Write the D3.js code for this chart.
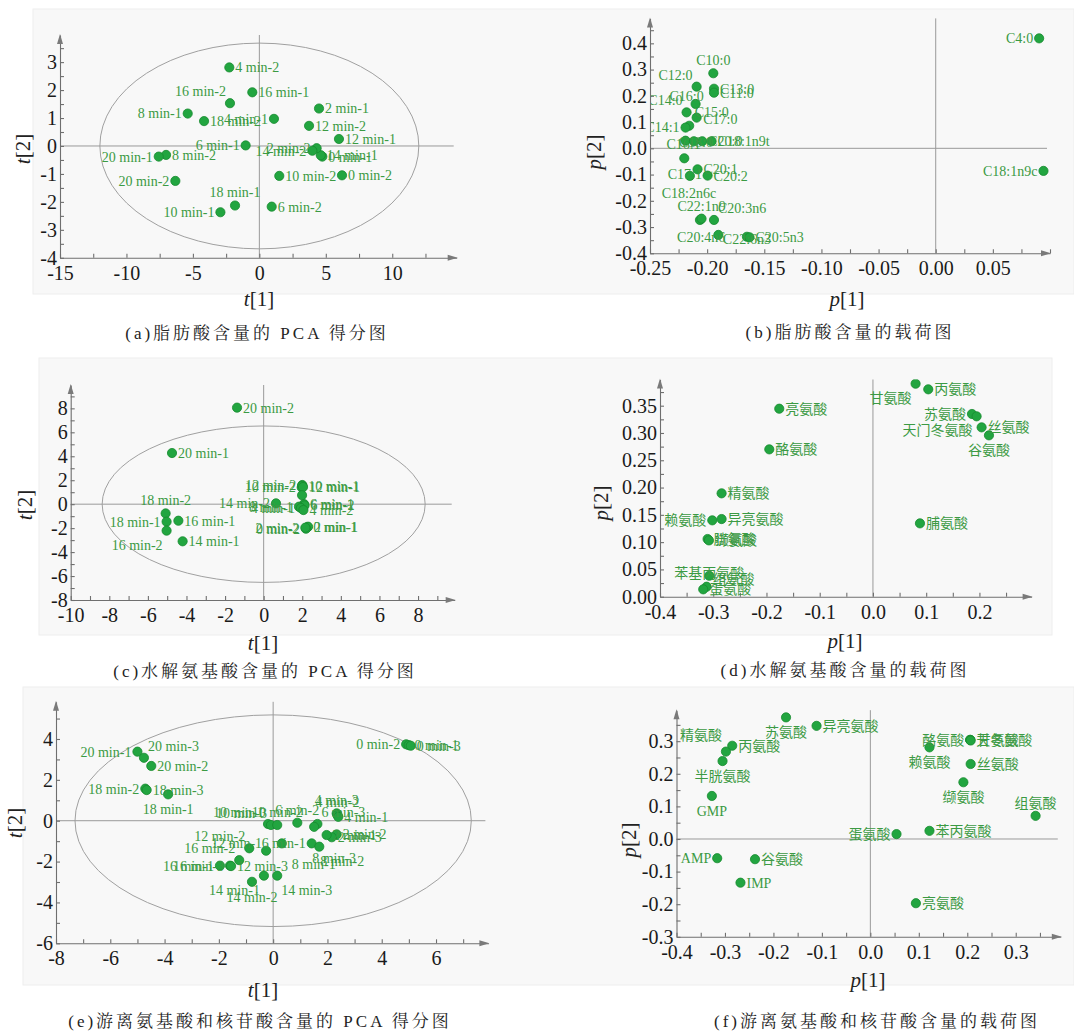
<!DOCTYPE html>
<html>
<head>
<meta charset="utf-8">
<script src="https://cdn.jsdelivr.net/npm/d3@7"></script>
<style>
  body { margin: 0; background: #fff; }
  svg { display: block; }
  .serif { font-family: "Liberation Serif", "Times New Roman"; }
  .lab { font-family: "Liberation Serif", "Noto Sans CJK SC"; }
  .cap { font-family: "Liberation Serif", "Noto Serif CJK SC", "Noto Sans CJK SC"; }
</style>
</head>
<body>
<svg id="fig" width="1074" height="1034"></svg>
<script>
// (a) fatty acid scores
const faScoreNames = ['0 min-1', '14 min-1', '0 min-2', '2 min-1', '2 min-2', '4 min-1', '4 min-2', '6 min-1', '6 min-2', '8 min-1', '8 min-2',
  '10 min-1', '10 min-2', '12 min-1', '12 min-2', '14 min-2', '16 min-1', '16 min-2', '18 min-1', '18 min-2', '20 min-1', '20 min-2'];
const faScoreT1 = [4.74, 4.62, 6.22, 4.49, 4.31, 1.10, -2.26, -1.03, 0.93, -5.39, -7.02, -2.93, 1.50, 5.99, 3.74, 3.99, -0.53, -2.21, -1.83, -4.16, -7.57, -6.32];
const faScoreT2 = [-0.38, -0.33, -1.05, 1.34, -0.08, 0.97, 2.81, 0.02, -2.17, 1.16, -0.32, -2.37, -1.07, 0.25, 0.72, -0.17, 1.92, 1.53, -2.13, 0.89, -0.38, -1.25];

// (b) fatty acid loadings
const faLoadNames = ['C4:0', 'C18:1n9c', 'C10:0', 'C12:0', 'C13:0', 'C11:0', 'C16:0', 'C14:0', 'C15:0', 'C17:0', 'C14:1', 'C16:1', 'C18:0',
  'C20:0', 'C18:1n9t', 'C22:0', 'C17:1', 'C20:1', 'C20:2', 'C18:2n6c', 'C22:1n9', 'C20:3n6', 'C20:4n6', 'C22:6n3', 'C20:5n3'];
const faLoadP1 = [0.0905, 0.0943, -0.1946, -0.2092, -0.1940, -0.1940, -0.2101, -0.2180, -0.2092, -0.2157, -0.2189, -0.2189, -0.2116,
  -0.2043, -0.1961, -0.2200, -0.2151, -0.2084, -0.1996, -0.2063, -0.2049, -0.1940, -0.1902, -0.1652, -0.1629];
const faLoadP2 = [0.419, -0.086, 0.286, 0.235, 0.227, 0.212, 0.169, 0.137, 0.117, 0.086, 0.079, 0.029, 0.027,
  0.027, 0.027, -0.038, -0.105, -0.080, -0.104, -0.273, -0.268, -0.273, -0.330, -0.337, -0.339];

// (c) hydrolysed amino acid scores
const haScoreNames = ['20 min-2', '20 min-1', '18 min-2', '18 min-1', '16 min-1', '16 min-2', '14 min-1', '14 min-2', '12 min-2', '10 min-2', '10 min-1',
  '12 min-1', '8 min-2', '6 min-1', '6 min-2', '8 min-1', '4 min-1', '4 min-2', '0 min-1', '2 min-1', '0 min-2', '2 min-2'];
const haScoreT1 = [-1.38, -4.75, -5.08, -5.03, -4.42, -5.03, -4.20, 0.64, 2.00, 1.97, 2.00, 2.04, 1.99, 2.09, 2.12, 1.83, 1.93, 2.06, 2.26, 2.30, 2.19, 2.16];
const haScoreT2 = [8.06, 4.27, -0.77, -1.46, -1.38, -2.21, -3.10, 0.07, 1.60, 1.40, 1.54, 1.43, 0.75, 0.01, -0.10, -0.21, -0.32, -0.49, -1.93, -1.88, -2.05, -1.96];

// (d) hydrolysed amino acid loadings
const haLoadNames = ['甘氨酸', '丙氨酸', '亮氨酸', '苏氨酸', '天门冬氨酸', '丝氨酸', '谷氨酸', '酪氨酸', '精氨酸', '赖氨酸', '异亮氨酸',
  '胱氨酸', '缬氨酸', '脯氨酸', '苯基丙氨酸', '组氨酸', '蛋氨酸'];
const haLoadP1 = [0.0801, 0.1039, -0.1760, 0.1860, 0.1947, 0.2041, 0.2179, -0.1947, -0.2843, -0.3018, -0.2843,
  -0.3106, -0.3081, 0.0883, -0.3075, -0.3124, -0.3188];
const haLoadP2 = [0.3903, 0.3800, 0.3445, 0.3348, 0.3305, 0.3103, 0.2957, 0.2700, 0.1894, 0.1399, 0.1423,
  0.1057, 0.1032, 0.1344, 0.0384, 0.0183, 0.0135];

// (e) free amino acid + nucleotide scores
const faaScoreNames = ['0 min-2', '0 min-1', '0 min-3', '20 min-1', '20 min-3', '20 min-2', '18 min-2', '18 min-3', '18 min-1', '4 min-3', '4 min-2',
  '4 min-1', '10 min-1', '10 min-3', '10 min-2', '6 min-2', '6 min-3', '8 min-3', '2 min-2', '2 min-3', '2 min-1', '6 min-1',
  '8 min-2', '8 min-1', '12 min-1', '12 min-2', '16 min-2', '16 min-3', '12 min-3', '16 min-1', '14 min-1', '14 min-3', '14 min-2'];
const faaScoreT1 = [4.90, 4.99, 5.07, -5.00, -4.76, -4.49, -4.71, -4.66, -3.87, 2.34, 2.37, 2.40, -0.19, -0.08, 0.15, 0.89, 1.63, 1.51,
  2.34, 2.16, 1.97, 1.42, 1.70, 0.32, -0.26, -0.88, -1.25, -1.59, -1.55, -1.96, -0.34, 0.15, -0.78];
const faaScoreT2 = [3.74, 3.70, 3.67, 3.38, 3.08, 2.68, 1.57, 1.50, 1.29, 0.36, 0.28, 0.19, -0.16, -0.21, -0.21, -0.10, -0.16, -0.30,
  -0.67, -0.81, -0.70, -1.11, -1.27, -1.11, -1.47, -1.35, -1.93, -2.20, -2.22, -2.20, -2.69, -2.69, -2.99];

// (f) free amino acid + nucleotide loadings
const faaLoadNames = ['苏氨酸', '异亮氨酸', '丙氨酸', '精氨酸', '半胱氨酸', 'GMP', 'AMP', '谷氨酸', 'IMP', '蛋氨酸', '苯丙氨酸', '亮氨酸',
  '酪氨酸', '天冬氨酸', '甘氨酸', '赖氨酸', '丝氨酸', '缬氨酸', '组氨酸'];
const faaLoadP1 = [-0.174, -0.111, -0.285, -0.298, -0.305, -0.327, -0.316, -0.238, -0.268, 0.054, 0.122, 0.094,
  0.206, 0.206, 0.207, 0.122, 0.207, 0.192, 0.341];
const faaLoadP2 = [0.373, 0.347, 0.286, 0.268, 0.239, 0.132, -0.059, -0.062, -0.134, 0.015, 0.025, -0.197,
  0.304, 0.304, 0.302, 0.281, 0.230, 0.174, 0.071];

// tick labels
const ticksA = { x: [-15, -10, -5, 0, 5, 10], y: [-4, -3, -2, -1, 0, 1, 2, 3] };
const ticksB = { x: [-0.25, -0.20, -0.15, -0.10, -0.05, 0.00, 0.05], y: [-0.4, -0.3, -0.2, -0.1, 0.0, 0.1, 0.2, 0.3, 0.4] };
const ticksC = { x: [-10, -8, -6, -4, -2, 0, 2, 4, 6, 8], y: [-8, -6, -4, -2, 0, 2, 4, 6, 8] };
const ticksD = { x: [-0.4, -0.3, -0.2, -0.1, 0.0, 0.1, 0.2], y: [0.00, 0.05, 0.10, 0.15, 0.20, 0.25, 0.30, 0.35] };
const ticksE = { x: [-8, -6, -4, -2, 0, 2, 4, 6], y: [-6, -4, -2, 0, 2, 4] };
const ticksF = { x: [-0.4, -0.3, -0.2, -0.1, 0.0, 0.1, 0.2, 0.3], y: [-0.3, -0.2, -0.1, 0.0, 0.1, 0.2, 0.3] };

// label placement per point (layout only)
const placeA = ['r', 'r', 'r', 'r', 'l', 'l', 'r', 'l', 'r', 'l', 'r', 'l', 'r', 'r', 'r', 'l', 'r', 'tl', 't', 'r', 'l', 'l'];
const placeB = ['l', 'l', 't', 'tl', 'r', 'r', [-9, -8, 'middle'], 'tl', [-2, -6, 'start'], [14, -7, 'start'], 'l', [-2, 3, 'middle'], [2, 1, 'middle'],
  'r', 'r', 'n', [-5, -2, 'middle'], 'r', 'r', [-11, -27, 'middle'], 't', 'tr', [7, 2, 'end'], 'c', 'r'];
const placeC = ['r', 'r', 't', 'l', 'r', 'bl', 'r', 'l', 'l', 'l', 'r', 'r', 'n', 'r', 'r', 'l', 'l', 'r', 'r', 'r', 'l', 'l'];
const placeD = ['bl', 'r', 'r', 'l', 'bl', 'r', 'b', 'r', 'r', 'l', 'r', 'r', 'r', 'r', [0, -3, 'middle'], [6, -8, 'start'], 'r'];
const placeE = ['l', 'r', 'r', 'l', 'tr', 'r', 'l', 'r', 'b', 't', 't', 'r', 'tl', 'tl', 't', 't', 'tr', [-2, 31, 'start'],
  'r', 'r', 'r', 'l', [1, 14, 'start'], [10, 21, 'start'], [-4, -8, 'end'], 'tl', 'tl', 'l', 'r', 'l', 'bl', 'br', 'b'];
const placeF = ['b', 'r', 'r', [-4, -17, 'end'], 'b', 'b', 'l', 'r', 'r', 'l', 'r', 'r', 'l', 'r', 'r', 'b', 'r', 'b', 't'];

const GREEN_DOT = '#22a540', GREEN_EDGE = '#178a2e', GREEN_TXT = '#3b9a43';

const svg = d3.select('#fig');

// grey bands behind each row of panels
[[33, 9, 1041, 285], [39, 358, 1013, 277], [23, 687, 1051, 298]].forEach(b => {
  svg.append('rect').attr('x', b[0]).attr('y', b[1]).attr('width', b[2]).attr('height', b[3])
    .attr('fill', '#f8f8f8').attr('stroke', '#eeeeee').attr('stroke-width', 1);
});

const sides = {
  r: [6, 0, 'start'], l: [-6, 0, 'end'], t: [0, -13, 'middle'], b: [0, 15, 'middle'],
  tl: [-4, -12, 'end'], tr: [4, -12, 'start'], bl: [-4, 14, 'end'], br: [4, 14, 'start'], c: [0, 2, 'middle']
};

function stepTicks(domain, step) {
  const out = [];
  const k0 = Math.ceil(domain[0] / step - 1e-6), k1 = Math.floor(domain[1] / step + 1e-6);
  for (let k = k0; k <= k1; k++) out.push(+(k * step).toFixed(6));
  return out;
}

let clipId = 0;
function drawPanel(p) {
  const x = d3.scaleLinear().domain(p.xDomain).range(p.xRange);
  const y = d3.scaleLinear().domain(p.yDomain).range(p.yRange);
  const [x0, x1] = p.xRange, [y0, y1] = p.yRange;
  const g = svg.append('g');

  if (p.ellipse) {
    g.append('ellipse')
      .attr('cx', x(0)).attr('cy', y(0))
      .attr('rx', x(p.ellipse[0]) - x(0)).attr('ry', y(0) - y(p.ellipse[1]))
      .attr('fill', 'none').attr('stroke', '#a0a0a0').attr('stroke-width', 1);
  }
  g.append('line').attr('x1', x(0)).attr('x2', x(0)).attr('y1', y0).attr('y2', y1)
    .attr('stroke', '#9a9a9a').attr('stroke-width', 1);
  if (y(0) < y0 - 1) {
    g.append('line').attr('x1', x0).attr('x2', x1 - 3).attr('y1', y(0)).attr('y2', y(0))
      .attr('stroke', '#9a9a9a').attr('stroke-width', 1);
  }

  // minor + major tick marks, drawn inside
  const xt = g.append('g').attr('transform', `translate(0,${y0})`)
    .call(d3.axisBottom(x).tickValues(stepTicks(p.xDomain, p.xStep)).tickSize(-4).tickSizeOuter(0).tickFormat(''));
  const yt = g.append('g').attr('transform', `translate(${x0},0)`)
    .call(d3.axisLeft(y).tickValues(stepTicks(p.yDomain, p.yStep)).tickSize(-4).tickSizeOuter(0).tickFormat(''));
  [xt, yt].forEach(a => {
    a.selectAll('path, line').attr('stroke', '#6f6f6f').attr('stroke-width', 1.1);
  });

  // tick labels
  const xl = g.append('g').attr('transform', `translate(0,${y0})`)
    .call(d3.axisBottom(x).tickValues(p.ticks.x).tickSize(0).tickPadding(8).tickFormat(d => d.toFixed(p.xDec)));
  const yl = g.append('g').attr('transform', `translate(${x0},0)`)
    .call(d3.axisLeft(y).tickValues(p.ticks.y).tickSize(0).tickPadding(3).tickFormat(d => d.toFixed(p.yDec)));
  [xl, yl].forEach(a => {
    a.select('.domain').remove();
    a.attr('font-family', null).attr('font-size', null);
    a.selectAll('text').attr('class', 'serif').style('font-size', '20px').attr('fill', '#1a1a1a');
  });

  // arrowheads
  g.append('path').attr('d', `M${x0},${y1 - 1} L${x0 - 3},${y1 + 9} L${x0 + 3},${y1 + 9} Z`).attr('fill', '#7a7a7a');
  g.append('path').attr('d', `M${x1 + 1},${y0} L${x1 - 9},${y0 - 3} L${x1 - 9},${y0 + 3} Z`).attr('fill', '#7a7a7a');

  // axis titles
  const xt2 = g.append('text').attr('class', 'serif').attr('x', p.xTitle[0]).attr('y', p.xTitle[1])
    .attr('text-anchor', 'middle').style('font-size', '21px').attr('fill', '#222');
  xt2.append('tspan').attr('font-style', 'italic').text(p.letter);
  xt2.append('tspan').text('[1]');
  const yt2 = g.append('text').attr('class', 'serif').attr('transform', `translate(${p.yTitle[0]},${p.yTitle[1]}) rotate(-90)`)
    .attr('text-anchor', 'middle').style('font-size', '21px').attr('fill', '#222');
  yt2.append('tspan').attr('font-style', 'italic').text(p.letter);
  yt2.append('tspan').text('[2]');

  // points and labels, clipped to the plot area
  const id = 'clip' + (clipId++);
  svg.append('clipPath').attr('id', id).append('rect')
    .attr('x', x0 + 1).attr('y', y1).attr('width', x1 - x0).attr('height', y0 - y1 - 1);
  const pg = g.append('g').attr('clip-path', `url(#${id})`);
  const pts = p.names.map((n, i) => ({ name: n, px: x(p.xs[i]), py: y(p.ys[i]), pl: p.place[i] }));

  pg.selectAll('circle').data(pts).join('circle')
    .attr('cx', d => d.px).attr('cy', d => d.py).attr('r', 4.6)
    .attr('fill', GREEN_DOT).attr('stroke', GREEN_EDGE).attr('stroke-width', 0.8);

  pg.selectAll('text.lab').data(pts.filter(d => d.pl !== 'n')).join('text')
    .attr('class', 'lab')
    .each(function (d) {
      const o = typeof d.pl === 'string' ? sides[d.pl] : d.pl;
      d3.select(this).attr('x', d.px + o[0]).attr('y', d.py + o[1]).attr('text-anchor', o[2]);
    })
    .attr('dy', '0.35em')
    .style('font-size', '14px').attr('fill', GREEN_TXT)
    .text(d => d.name);

  // caption
  svg.append('text').attr('class', 'cap').attr('x', p.caption[1]).attr('y', p.caption[2]).attr('text-anchor', 'middle')
    .style('font-size', '17px').style('letter-spacing', p.caption[3] + 'px').attr('fill', '#222')
    .text(p.caption[0]);
}

drawPanel({
  names: faScoreNames, xs: faScoreT1, ys: faScoreT2, place: placeA, ticks: ticksA, letter: 't',
  xDomain: [-15, 14.85], xRange: [60, 456.7], yDomain: [-4, 3.97], yRange: [257.8, 35],
  xStep: 2.5, yStep: 0.5, xDec: 0, yDec: 0, ellipse: [12, 3.68],
  xTitle: [259, 306], yTitle: [30, 149], caption: ['(a)脂肪酸含量的 PCA 得分图', 257, 339, 3]
});
drawPanel({
  names: faLoadNames, xs: faLoadP1, ys: faLoadP2, place: placeB, ticks: ticksB, letter: 'p',
  xDomain: [-0.25, 0.1], xRange: [650, 1050], yDomain: [-0.4, 0.495], yRange: [253.3, 18.4],
  xStep: 0.025, yStep: 0.05, xDec: 2, yDec: 1,
  xTitle: [847, 306], yTitle: [601, 152], caption: ['(b)脂肪酸含量的载荷图', 850, 338, 3]
});
drawPanel({
  names: haScoreNames, xs: haScoreT1, ys: haScoreT2, place: placeC, ticks: ticksC, letter: 't',
  xDomain: [-10, 9.9], xRange: [70.7, 454.7], yDomain: [-8, 9.95], yRange: [600, 385],
  xStep: 1, yStep: 1, xDec: 0, yDec: 0, ellipse: [8.37, 6.53],
  xTitle: [263, 650], yTitle: [32, 505], caption: ['(c)水解氨基酸含量的 PCA 得分图', 265, 677, 3]
});
drawPanel({
  names: haLoadNames, xs: haLoadP1, ys: haLoadP2, place: placeD, ticks: ticksD, letter: 'p',
  xDomain: [-0.4, 0.298], xRange: [660, 1031.6], yDomain: [0, 0.398], yRange: [596.7, 379.5],
  xStep: 0.05, yStep: 0.025, xDec: 1, yDec: 2,
  xTitle: [845, 648], yTitle: [608, 503], caption: ['(d)水解氨基酸含量的载荷图', 845, 676, 3]
});
drawPanel({
  names: faaScoreNames, xs: faaScoreT1, ys: faaScoreT2, place: placeE, ticks: ticksE, letter: 't',
  xDomain: [-8, 7.93], xRange: [56, 488.4], yDomain: [-6, 5.82], yRange: [943.3, 701.8],
  xStep: 1, yStep: 1, xDec: 0, yDec: 0, ellipse: [7.3, 5.18],
  xTitle: [263, 997], yTitle: [22, 823], caption: ['(e)游离氨基酸和核苷酸含量的 PCA 得分图', 260, 1027, 3]
});
drawPanel({
  names: faaLoadNames, xs: faaLoadP1, ys: faaLoadP2, place: placeF, ticks: ticksF, letter: 'p',
  xDomain: [-0.4, 0.393], xRange: [676.5, 1060.8], yDomain: [-0.3, 0.395], yRange: [936.8, 710.2],
  xStep: 0.05, yStep: 0.05, xDec: 1, yDec: 1,
  xTitle: [868, 987], yTitle: [636, 840], caption: ['(f)游离氨基酸和核苷酸含量的载荷图', 877, 1027, 3]
});
</script>
</body>
</html>
